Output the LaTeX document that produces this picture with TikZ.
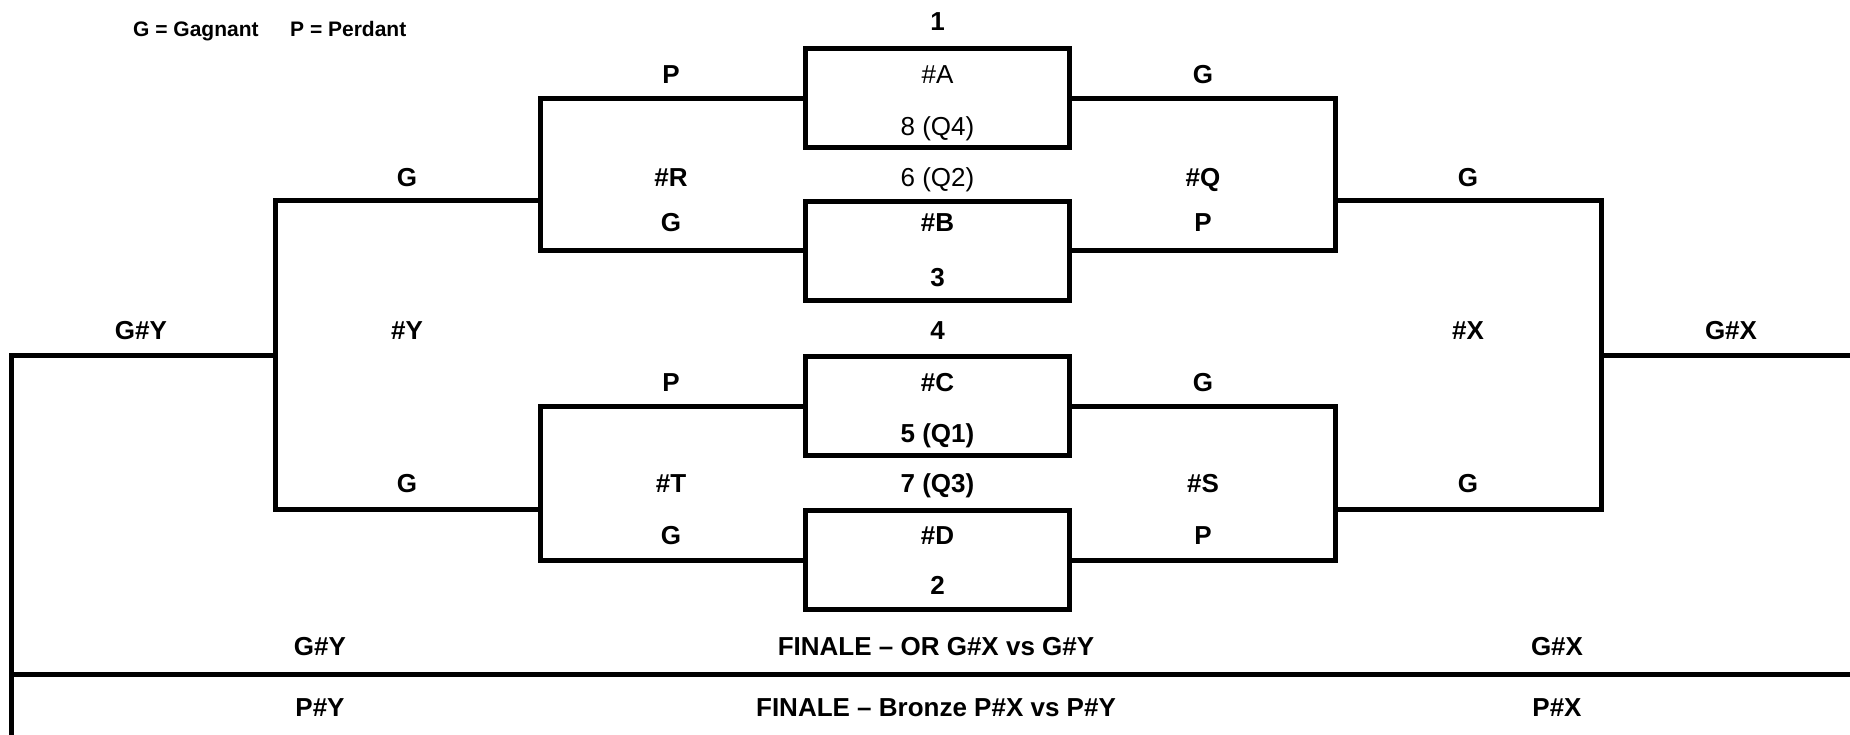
\documentclass[tikz,border=0pt]{standalone}
\usepackage{fontspec}
\setmainfont{Liberation Sans}
\begin{document}
\begin{tikzpicture}[x=1pt,y=-1pt,
  bl/.style={line width=5pt, line join=miter},
  boxn/.style={draw, line width=5pt, minimum width=264pt, minimum height=99pt, inner sep=0pt},
  lb/.style={font=\fontsize{26}{30}\selectfont\bfseries, anchor=base, inner sep=0pt},
  lr/.style={font=\fontsize{26}{30}\selectfont, anchor=base, inner sep=0pt},
  lg/.style={font=\fontsize{21}{25}\selectfont\bfseries, anchor=base west, inner sep=0pt}]
\useasboundingbox (0,0) rectangle (1850,735);
% boxes
\node[boxn] (A) at (937.5,98.5) {};
\node[boxn] (B) at (937.5,251) {};
\node[boxn] (C) at (937.5,406) {};
\node[boxn] (D) at (937.5,560) {};
% coordinates left
\coordinate (R1) at (540,98.5);
\coordinate (R2) at (540,251);
\coordinate (RJ) at (540,201);
\coordinate (L1) at (275,201);
\coordinate (L2) at (275,509);
\coordinate (TJ) at (540,509);
\coordinate (T1) at (540,406);
\coordinate (T2) at (540,560);
\coordinate (YJ) at (275,355);
\coordinate (Y0) at (11,355);
\coordinate (Yb) at (11,735);
\coordinate (F0) at (11,674);
\coordinate (F1) at (1850,674);
% coordinates right
\coordinate (Q1) at (1335,98.5);
\coordinate (Q2) at (1335,251);
\coordinate (QJ) at (1335,201);
\coordinate (K1) at (1601,201);
\coordinate (K2) at (1601,509);
\coordinate (SJ) at (1335,509);
\coordinate (S1) at (1335,406);
\coordinate (S2) at (1335,560);
\coordinate (XJ) at (1601,355);
\coordinate (X0) at (1850,355);
% connectors
\draw[bl] (A.west) -- (R1) -- (R2) -- (B.west);
\draw[bl] (RJ) -- (L1) -- (L2) -- (TJ);
\draw[bl] (C.west) -- (T1) -- (T2) -- (D.west);
\draw[bl] (YJ) -- (Y0) -- (Yb);
\draw[bl] (F0) -- (F1);
\draw[bl] (A.east) -- (Q1) -- (Q2) -- (B.east);
\draw[bl] (QJ) -- (K1) -- (K2) -- (SJ);
\draw[bl] (C.east) -- (S1) -- (S2) -- (D.east);
\draw[bl] (XJ) -- (X0);
% legend
\node[lg] (lgG) at (133,36.5) {G = Gagnant};
\node[lg] (lgP) at (290,36.5) {P = Perdant};
% labels
\node[lb] (n1) at (937.5,31) {1};
\node[lb] (a1) at (671,84) {P};
\node[lr] (a2) at (937.5,84) {\#A};
\node[lb] (a3) at (1203,84) {G};
\node[lr] (a4) at (937.5,136) {8 (Q4)};
\node[lb] (b1) at (407,187) {G};
\node[lb] (b2) at (671,187) {\#R};
\node[lr] (b3) at (937.5,187) {6 (Q2)};
\node[lb] (b4) at (1203,187) {\#Q};
\node[lb] (b5) at (1468,187) {G};
\node[lb] (c1) at (671,232) {G};
\node[lb] (c2) at (937.5,232) {\#B};
\node[lb] (c3) at (1203,232) {P};
\node[lb] (n3) at (937.5,287) {3};
\node[lb] (d1) at (141,339) {G\#Y};
\node[lb] (d2) at (407,339) {\#Y};
\node[lb] (d3) at (937.5,339) {4};
\node[lb] (d4) at (1468,339) {\#X};
\node[lb] (d5) at (1731,339) {G\#X};
\node[lb] (e1) at (671,391) {P};
\node[lb] (e2) at (937.5,391) {\#C};
\node[lb] (e3) at (1203,391) {G};
\node[lb] (e4) at (937.5,442) {5 (Q1)};
\node[lb] (f1) at (407,492) {G};
\node[lb] (f2) at (671,492) {\#T};
\node[lb] (f3) at (937.5,492) {7 (Q3)};
\node[lb] (f4) at (1203,492) {\#S};
\node[lb] (f5) at (1468,492) {G};
\node[lb] (g1) at (671,544) {G};
\node[lb] (g2) at (937.5,544) {\#D};
\node[lb] (g3) at (1203,544) {P};
\node[lb] (n2) at (937.5,594) {2};
\node[lb] (h1) at (320,655) {G\#Y};
\node[lb] (h2) at (936,655) {FINALE – OR G\#X vs G\#Y};
\node[lb] (h3) at (1557,655) {G\#X};
\node[lb] (i1) at (320,716.5) {P\#Y};
\node[lb] (i2) at (936,716.5) {FINALE – Bronze P\#X vs P\#Y};
\node[lb] (i3) at (1557,716.5) {P\#X};
\end{tikzpicture}
\end{document}
